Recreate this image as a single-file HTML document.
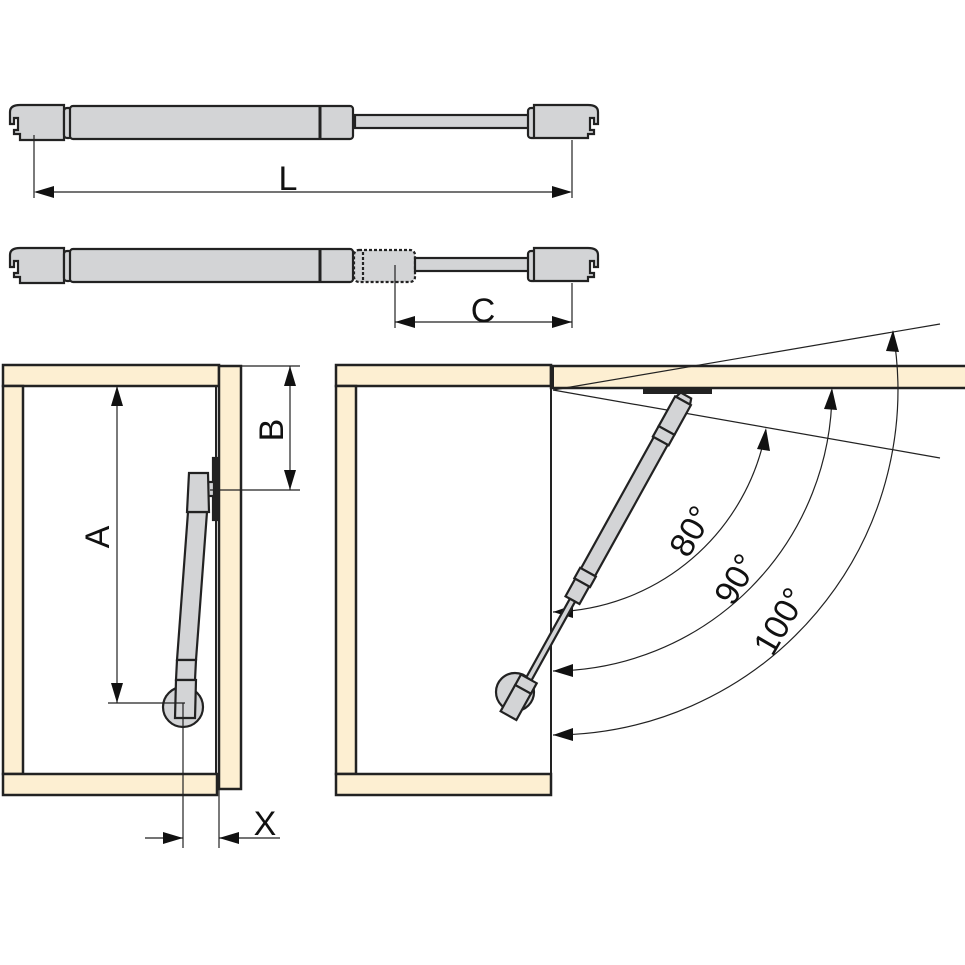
<!DOCTYPE html>
<html><head><style>body{margin:0;background:#fff}svg{display:block}</style></head>
<body>
<svg width="965" height="965" viewBox="0 0 965 965" xmlns="http://www.w3.org/2000/svg" font-family="Liberation Sans, sans-serif">
<g stroke="#222" stroke-width="2.2" fill="#d3d4d6">
<!-- strut 1 -->
<path d="M20,105h44v35h-44v-6h-6v-4h4v-12h-4v6h-4v-12q0,-7 10,-7z"/>
<rect x="64" y="108" width="8" height="30" rx="3"/>
<rect x="70" y="106" width="283" height="33" rx="3"/>
<line x1="320" y1="106" x2="320" y2="139" stroke-width="3"/>
<rect x="355" y="115" width="174" height="13"/>
<rect x="528" y="108" width="8" height="30" rx="3"/>
<path d="M534,105h54q10,0 10,7v12h-4v-6h-4v12h4v4h-6v4h-54z"/>
<!-- strut 2 -->
<path d="M20,248h44v35h-44v-6h-6v-4h4v-12h-4v6h-4v-12q0,-7 10,-7z"/>
<rect x="64" y="251" width="8" height="30" rx="3"/>
<rect x="70" y="249" width="283" height="33" rx="3"/>
<line x1="320" y1="249" x2="320" y2="282" stroke-width="3"/>
<rect x="354" y="250" width="61" height="32" rx="5" stroke-dasharray="3,2"/>
<line x1="363" y1="252" x2="363" y2="281" stroke-dasharray="3,2"/>
<rect x="415" y="258" width="114" height="13"/>
<rect x="528" y="251" width="8" height="30" rx="3"/>
<path d="M534,248h54q10,0 10,7v12h-4v-6h-4v12h4v4h-6v4h-54z"/>
</g>
<g stroke="#222" stroke-width="1.2" fill="none">
<line x1="34" y1="135" x2="34" y2="198"/><line x1="572" y1="140" x2="572" y2="198"/>
<line x1="36" y1="192" x2="570" y2="192"/>
<line x1="395" y1="265" x2="395" y2="328"/><line x1="572" y1="283" x2="572" y2="328"/>
<line x1="395" y1="322" x2="572" y2="322"/>
</g>
<g fill="#111">
<path d="M34,192l20,-6v12z"/><path d="M572,192l-20,-6v12z"/>
<path d="M395,322l20,-6v12z"/><path d="M572,322l-20,-6v12z"/>
</g>
<text x="288" y="190" font-size="34" text-anchor="middle" fill="#111">L</text>
<text x="483" y="322" font-size="34" text-anchor="middle" fill="#111">C</text>
<!-- left cabinet -->
<g stroke="#222" stroke-width="2.5" fill="#fdefd2">
<rect x="3" y="365" width="216" height="21"/>
<rect x="3" y="386" width="20" height="388"/>
<rect x="3" y="774" width="214" height="21"/>
<rect x="219" y="366" width="22" height="423"/>
</g>
<line x1="216" y1="386" x2="216" y2="774" stroke="#222" stroke-width="2"/>
<!-- left strut -->
<g stroke="#222" stroke-width="2.2" fill="#d3d4d6">
<circle cx="183" cy="707" r="20"/>
<rect x="213" y="458" width="4" height="62" fill="#222"/>
<rect x="208" y="482" width="6" height="14"/>
<path d="M188,512L207,512L196,660L177,660z"/>
<path d="M177,660h19l-1,20h-19z"/>
<path d="M176,680h20l-1,38h-20z"/>
<path d="M189,473h19l1,39h-22z"/>
</g>
<g stroke="#222" stroke-width="1.2">
<line x1="219" y1="366" x2="300" y2="366"/><line x1="210" y1="490" x2="300" y2="490"/>
<line x1="290" y1="366" x2="290" y2="490"/>
<line x1="117" y1="386" x2="117" y2="703"/>
<line x1="108" y1="703" x2="185" y2="703"/>
<line x1="183" y1="703" x2="183" y2="848"/><line x1="219" y1="790" x2="219" y2="848"/>
<line x1="145" y1="838" x2="183" y2="838"/><line x1="219" y1="838" x2="280" y2="838"/>
</g>
<g fill="#111">
<path d="M290,366l-6,20h12z"/><path d="M290,490l-6,-20h12z"/>
<path d="M117,386l-6,20h12z"/><path d="M117,703l-6,-20h12z"/>
<path d="M183,838l-20,-6v12z"/><path d="M219,838l20,-6v12z"/>
</g>
<text x="0" y="0" font-size="34" fill="#111" text-anchor="middle" transform="translate(283,430) rotate(-90)">B</text>
<text x="0" y="0" font-size="34" fill="#111" text-anchor="middle" transform="translate(109,537) rotate(-90)">A</text>
<text x="265" y="835" font-size="34" fill="#111" text-anchor="middle">X</text>
<!-- right cabinet -->
<g stroke="#222" stroke-width="2.5" fill="#fdefd2">
<rect x="336" y="365" width="215" height="21"/>
<rect x="336" y="386" width="20" height="388"/>
<rect x="336" y="774" width="215" height="21"/>
<rect x="551" y="366" width="420" height="22"/>
</g>
<line x1="551" y1="386" x2="551" y2="774" stroke="#222" stroke-width="2"/>
<line x1="552" y1="366" x2="552" y2="387" stroke="#222" stroke-width="4"/>
<g stroke="#222" stroke-width="1.2" fill="none">
<line x1="553" y1="390" x2="940" y2="324"/>
<line x1="553" y1="390" x2="940" y2="458"/>
<path d="M553,612 A222,222 0 0 0 766,430"/>
<path d="M553,671 A281,281 0 0 0 832,390"/>
<path d="M553,735 A345,345 0 0 0 893,332"/>
</g>
<g fill="#111">
<path d="M766,428l-9,21l13,2z"/><path d="M832,388l-8,21l13,1z"/><path d="M893,330l-7,21l13,1z"/>
<path d="M553,612l20,-7v13z"/><path d="M553,671l20,-7v13z"/><path d="M553,735l20,-7v13z"/>
</g>
<rect x="643" y="389" width="69" height="5" fill="#222"/>
<g stroke="#222" stroke-width="2.2" fill="#d3d4d6">
<circle cx="515" cy="692" r="19"/>
<g transform="translate(684,399) rotate(29)">
<path d="M-6,-4h12l2,6h-16z"/>
<path d="M-9,2h18v34h-18z"/>
<path d="M-9,36h18v12h-18z"/>
<path d="M-8,48h16v150h-16z"/>
<path d="M-9,198h18v12h-18z"/>
<path d="M-8,210h16v20h-16z"/>
<path d="M-3,230h6v90h-6z"/>
<path d="M-9,320h18v12h-18z"/>
<path d="M-9,332h18v30h-18z"/>
</g>
</g>
<g font-size="34" fill="#111" text-anchor="middle">
<text transform="translate(701,537) rotate(-60)">80°</text>
<text transform="translate(746,585) rotate(-60)">90°</text>
<text transform="translate(790,627) rotate(-60)">100°</text>
</g>
</svg>
</body></html>
